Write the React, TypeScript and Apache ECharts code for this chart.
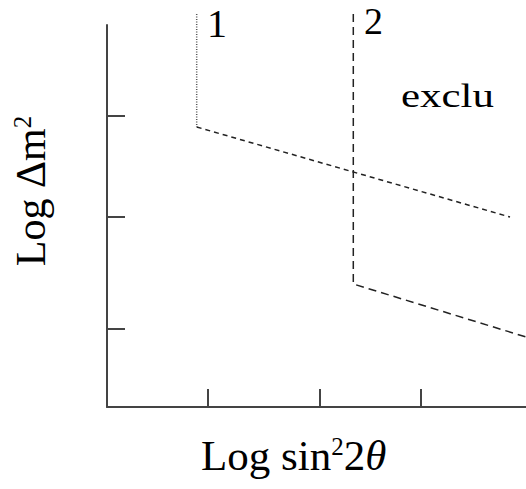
import React, { useEffect, useRef } from "react";
import * as echarts from "echarts";

// Axis units: abstract log units
const xRange = [0, 4.19];
const yRange = [0, 3.82];
const xTickValues = [1.007, 2.13, 3.137];
const yTickValues = [0.78, 1.903, 2.913];

// Curve 1: dotted vertical part, then dashed sloped part
const curve1Vertical = [
  [0.897, 3.93],
  [0.897, 2.8],
];
const curve1Slope = [
  [0.897, 2.8],
  [4.03, 1.9],
];
// Curve 2: dashed vertical then sloped
const curve2 = [
  [2.463, 3.93],
  [2.463, 1.23],
  [4.19, 0.7],
];

const curveLabels = ["1", "2"];
const regionLabel = "exclu";

const FONT = '"Liberation Serif", "Times New Roman", serif';

export default function App() {
  const ref = useRef<HTMLDivElement>(null);

  useEffect(() => {
    if (!ref.current) return;
    document.body.style.margin = "0";
    const chart = echarts.init(ref.current, undefined, { renderer: "svg" });
    const axisColor = "#444";
    chart.setOption({
      animation: false,
      backgroundColor: "#ffffff",
      grid: { left: 107, right: 0, top: 25, bottom: 82, containLabel: false },
      xAxis: {
        type: "value",
        min: xRange[0],
        max: xRange[1],
        axisLine: { show: true, onZero: false, lineStyle: { color: axisColor, width: 2 } },
        axisTick: {
          show: true,
          inside: true,
          length: 18,
          customValues: xTickValues,
          lineStyle: { color: axisColor, width: 2 },
        },
        axisLabel: { show: false },
        splitLine: { show: false },
      },
      yAxis: {
        type: "value",
        min: yRange[0],
        max: yRange[1],
        axisLine: { show: true, onZero: false, lineStyle: { color: axisColor, width: 2 } },
        axisTick: {
          show: true,
          inside: true,
          length: 18,
          customValues: yTickValues,
          lineStyle: { color: axisColor, width: 2 },
        },
        axisLabel: { show: false },
        splitLine: { show: false },
      },
      series: [
        {
          type: "line",
          data: curve1Vertical,
          symbol: "none",
          clip: false,
          silent: true,
          lineStyle: { color: "#555", width: 1.5, type: [1, 1.5] },
        },
        {
          type: "line",
          data: curve1Slope,
          symbol: "none",
          clip: false,
          silent: true,
          lineStyle: { color: "#222", width: 1.5, type: [5, 4] },
        },
        {
          type: "line",
          data: curve2,
          symbol: "none",
          clip: false,
          silent: true,
          lineStyle: { color: "#222", width: 1.5, type: [8, 5] },
        },
      ],
      graphic: [
        {
          type: "text",
          x: 207,
          y: 23.5,
          style: {
            text: curveLabels[0],
            font: `40px ${FONT}`,
            fill: "#000",
            align: "left",
            verticalAlign: "middle",
          },
        },
        {
          type: "text",
          x: 364,
          y: 20.5,
          style: {
            text: curveLabels[1],
            font: `38px ${FONT}`,
            fill: "#000",
            align: "left",
            verticalAlign: "middle",
          },
        },
        {
          type: "text",
          x: 401,
          y: 95.5,
          scaleX: 1.3,
          style: {
            text: regionLabel,
            font: `33px ${FONT}`,
            fill: "#000",
            align: "left",
            verticalAlign: "middle",
          },
        },
        {
          type: "text",
          x: 201,
          y: 455,
          style: {
            text: "{a|Log sin}{s|2}{a|2}{t|θ}",
            align: "left",
            verticalAlign: "middle",
            fill: "#000",
            rich: {
              a: { fontFamily: FONT, fontSize: 43, fill: "#000", lineHeight: 43 },
              s: { fontFamily: FONT, fontSize: 25, fill: "#000", verticalAlign: "top", lineHeight: 25 },
              t: { fontFamily: FONT, fontSize: 43, fontStyle: "italic", fill: "#000", lineHeight: 43 },
            },
          },
        },
        {
          type: "text",
          x: 31,
          y: 191,
          rotation: Math.PI / 2,
          style: {
            text: "{a|Log Δm}{s|2}",
            align: "center",
            verticalAlign: "middle",
            fill: "#000",
            rich: {
              a: { fontFamily: FONT, fontSize: 42, fill: "#000", lineHeight: 42 },
              s: { fontFamily: FONT, fontSize: 25, fill: "#000", verticalAlign: "top", lineHeight: 25 },
            },
          },
        },
      ],
    });
    return () => chart.dispose();
  }, []);

  return (
    <div
      ref={ref}
      style={{ position: "fixed", left: 0, top: 0, width: 526, height: 489, background: "#fff" }}
    />
  );
}
